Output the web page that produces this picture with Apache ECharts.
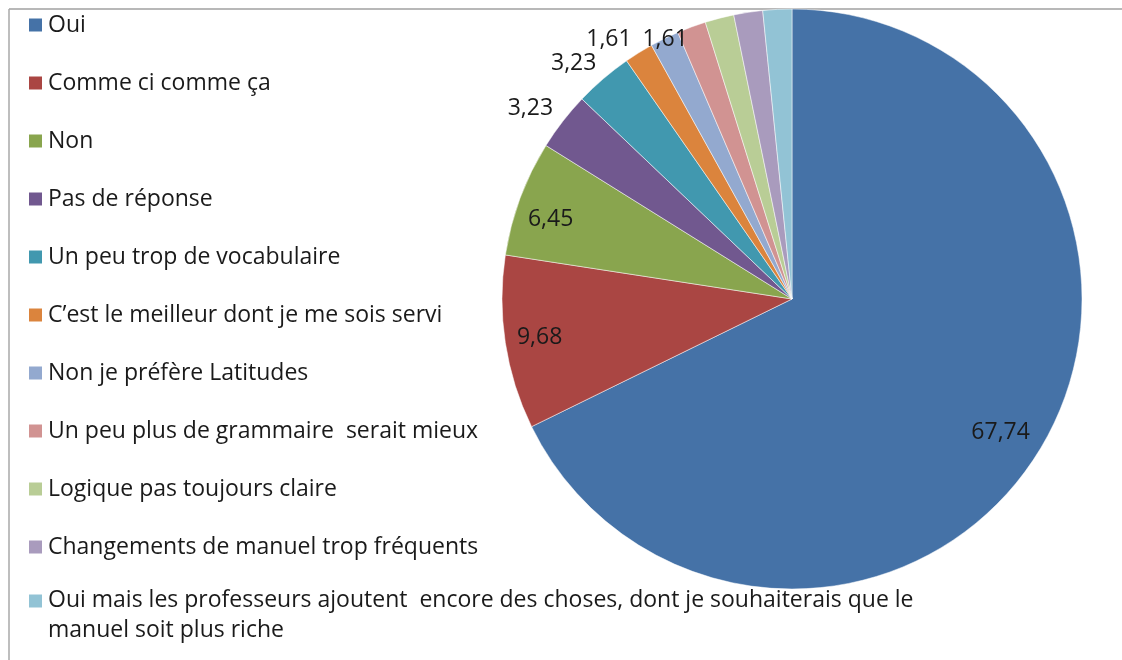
<!DOCTYPE html>
<html>
<head>
<meta charset="utf-8">
<script src="https://cdn.jsdelivr.net/npm/echarts@6/dist/echarts.min.js"></script>
<style>
  html, body { margin: 0; padding: 0; background: #fff; }
  #chart { width: 1122px; height: 660px; }
</style>
</head>
<body>
<div id="chart"></div>
<script>
// réponses (en %)
const categories = [
  "Oui",
  "Comme ci comme ça",
  "Non",
  "Pas de réponse",
  "Un peu trop de vocabulaire",
  "C\u2019est le meilleur dont je me sois servi",
  "Non je préfère Latitudes",
  "Un peu plus de grammaire  serait mieux",
  "Logique pas toujours claire",
  "Changements de manuel trop fréquents",
  "Oui mais les professeurs ajoutent  encore des choses, dont je souhaiterais que le\nmanuel soit plus riche"
]
const values = [67.74, 9.68, 6.45, 3.23, 3.23, 1.61, 1.61, 1.61, 1.61, 1.61, 1.61]
const colors = ["#4572A7", "#AA4643", "#89A54E", "#71588F", "#4198AF", "#DB843D",
  "#93A9CF", "#D19392", "#B9CD96", "#A99BBD", "#92C3D5"]

const font = "Open Sans"
const fontSize = 23
const R = 290
const center = [792, 299]
const lineH = 28
// 3 premières étiquettes dans les parts, 4 suivantes à l'extérieur, le reste caché
const nbInside = 3
const nbOutside = 4
// petits décalages des étiquettes (comme Excel "ajustement optimal")
const labelNudge = {
  0: [-8, -2],
  2: [-2, 9],
  3: [0, -9],
  4: [2, -11],
  5: [1, -8],
  6: [31, 6]
}

let fmt = function (v) {
  return v.toFixed(2).replace(".", ",")
}

let mainData = categories.map((name, i) => {
  let showOut = i >= nbInside && i < nbInside + nbOutside
  return {
    name: name,
    value: values[i],
    itemStyle: { color: colors[i] },
    label: { show: showOut }
  }
})
let innerLabelData = categories.map((name, i) => {
  return {
    name: name,
    value: values[i],
    label: { show: i < nbInside }
  }
})
let nudge = function (p) {
  let d = labelNudge[p.dataIndex] || [0, 0]
  return { dx: d[0], dy: d[1] }
}

let lastName = categories[categories.length - 1]
let lastLines = lastName.split("\n")

let legendText = {
  fontFamily: font,
  fontSize: fontSize,
  lineHeight: lineH,
  color: "#1a1a1a"
}

const chart = echarts.init(document.getElementById("chart"), null, { renderer: "canvas" })
chart.setOption({
  animation: false,
  color: colors,
  graphic: [
    { type: "line", shape: { x1: 9, y1: 9, x2: 1122, y2: 9 }, style: { stroke: "#b8b8b8", lineWidth: 2 } },
    { type: "line", shape: { x1: 9, y1: 9, x2: 9, y2: 660 }, style: { stroke: "#a8a8a8", lineWidth: 1.5 } }
  ],
  legend: [{
    orient: "vertical",
    left: 27,
    top: 25 - lineH / 2,
    height: 700,
    padding: 0,
    icon: "rect",
    itemWidth: 15,
    itemHeight: 15,
    itemGap: 58 - lineH,
    data: categories.slice(0, categories.length - 1),
    textStyle: legendText,
    selectedMode: false
  }, {
    // dernière entrée sur deux lignes, première ligne alignée sur le carré
    orient: "vertical",
    left: 27,
    top: 571,
    padding: 0,
    icon: "rect",
    itemWidth: 15,
    itemHeight: 15,
    data: [lastName],
    formatter: () => "{a|" + lastLines[0] + "}\n{b|" + lastLines[1] + "}",
    textStyle: Object.assign({}, legendText, {
      rich: {
        a: { fontFamily: font, fontSize: fontSize, color: "#1a1a1a", lineHeight: 59 },
        b: { fontFamily: font, fontSize: fontSize, color: "#1a1a1a", lineHeight: 1 }
      }
    }),
    selectedMode: false
  }],
  series: [{
    type: "pie",
    name: "main",
    center: center,
    radius: R,
    startAngle: 90,
    clockwise: true,
    silent: true,
    avoidLabelOverlap: false,
    data: mainData,
    itemStyle: { borderColor: "#ffffff", borderWidth: 0.5 },
    label: {
      position: "outside",
      fontFamily: font,
      fontSize: fontSize,
      color: "#1a1a1a",
      formatter: p => fmt(p.value)
    },
    labelLine: { show: false, length: 6, length2: 0 },
    labelLayout: nudge
  }, {
    // anneau transparent qui porte les étiquettes intérieures
    type: "pie",
    name: "labels",
    center: center,
    radius: [R * 0.74, R],
    startAngle: 90,
    clockwise: true,
    silent: true,
    data: innerLabelData,
    itemStyle: { color: "rgba(0,0,0,0)" },
    label: {
      position: "inside",
      fontFamily: font,
      fontSize: fontSize,
      color: "#1a1a1a",
      formatter: p => fmt(p.value)
    },
    labelLine: { show: false },
    labelLayout: nudge
  }]
})
</script>
</body>
</html>
